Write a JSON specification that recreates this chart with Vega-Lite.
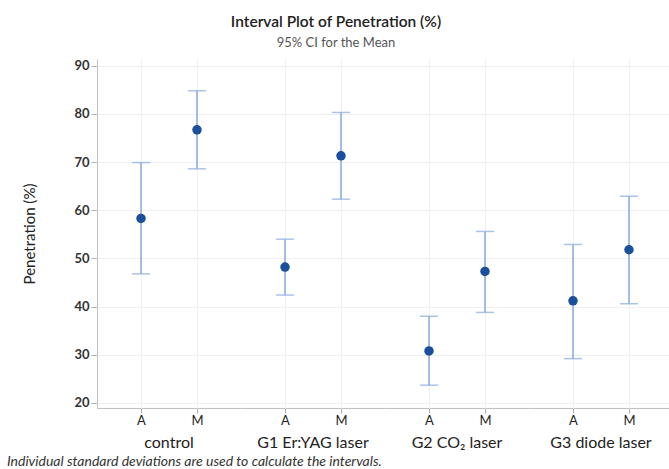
{
  "$schema": "https://vega.github.io/schema/vega-lite/v6.json",
  "padding": {"left": 6, "top": 14, "right": 0, "bottom": 0},
  "background": "white",
  "title": {
    "text": "Individual standard deviations are used to calculate the intervals.",
    "orient": "bottom",
    "anchor": "start",
    "dx": -16,
    "offset": 4,
    "font": "Lato",
    "fontSize": 14,
    "fontStyle": "italic",
    "fontWeight": "normal",
    "color": "#333333"
  },
  "vconcat": [
    {
      "data": {
        "values": [
          {"group": "control", "sub": "A", "mean": 58.3, "lo": 46.8, "hi": 69.9},
          {"group": "control", "sub": "M", "mean": 76.7, "lo": 68.6, "hi": 84.8},
          {"group": "G1 Er:YAG laser", "sub": "A", "mean": 48.2, "lo": 42.4, "hi": 54.0},
          {"group": "G1 Er:YAG laser", "sub": "M", "mean": 71.3, "lo": 62.3, "hi": 80.3},
          {"group": "G2 CO₂ laser", "sub": "A", "mean": 30.8, "lo": 23.7, "hi": 38.0},
          {"group": "G2 CO₂ laser", "sub": "M", "mean": 47.3, "lo": 38.8, "hi": 55.6},
          {"group": "G3 diode laser", "sub": "A", "mean": 41.2, "lo": 29.2, "hi": 52.9},
          {"group": "G3 diode laser", "sub": "M", "mean": 51.8, "lo": 40.6, "hi": 62.9}
        ]
      },
      "title": {
        "text": "Interval Plot of Penetration (%)",
        "subtitle": "95% CI for the Mean",
        "anchor": "middle",
        "dx": -12,
        "font": "Lato",
        "fontSize": 15.5,
        "fontWeight": 600,
        "color": "#222222",
        "subtitleFont": "Lato",
        "subtitleFontSize": 13,
        "subtitleColor": "#555555",
        "subtitlePadding": 7,
        "offset": 9
      },
      "spacing": 0,
      "facet": {
        "column": {
          "field": "group",
          "type": "nominal",
          "sort": ["control", "G1 Er:YAG laser", "G2 CO₂ laser", "G3 diode laser"],
          "header": {
            "title": null,
            "labelOrient": "bottom",
            "labelFont": "Lato",
            "labelFontSize": 16,
            "labelColor": "#222222",
            "labelPadding": 8
          }
        }
      },
      "spec": {
        "width": 144,
        "height": 349,
        "view": {"stroke": null},
        "layer": [
          {
            "mark": {"type": "rule", "color": "#86a9dc", "strokeWidth": 1.5},
            "encoding": {
              "x": {
                "field": "sub",
                "type": "nominal",
                "scale": {"type": "point", "padding": 0.786},
                "axis": {
                  "title": null,
                  "labelAngle": 0,
                  "labelFont": "Lato",
                  "labelFontSize": 13,
                  "labelColor": "#222222",
                  "labelPadding": 1,
                  "tickSize": 5,
                  "tickColor": "#b0b0b0",
                  "domainColor": "#c0c0c0",
                  "grid": true,
                  "gridColor": "#f0f0f0"
                }
              },
              "y": {
                "field": "lo",
                "type": "quantitative",
                "scale": {"domain": [18.96, 91.39], "nice": false, "zero": false},
                "axis": {
                  "title": "Penetration (%)",
                  "titleFont": "Lato",
                  "titleFontSize": 15,
                  "titleFontWeight": "normal",
                  "titleColor": "#222222",
                  "titlePadding": 36,
                  "values": [20, 30, 40, 50, 60, 70, 80, 90],
                  "labelFont": "Lato",
                  "labelFontSize": 13,
                  "labelFontWeight": "bold",
                  "labelColor": "#333333",
                  "labelPadding": 2,
                  "tickSize": 6,
                  "tickColor": "#b0b0b0",
                  "domainColor": "#c0c0c0",
                  "grid": true,
                  "gridColor": "#f0f0f0"
                }
              },
              "y2": {"field": "hi"}
            }
          },
          {
            "mark": {"type": "tick", "color": "#86a9dc", "size": 18, "thickness": 1.5},
            "encoding": {
              "x": {"field": "sub", "type": "nominal"},
              "y": {"field": "lo", "type": "quantitative"}
            }
          },
          {
            "mark": {"type": "tick", "color": "#86a9dc", "size": 18, "thickness": 1.5},
            "encoding": {
              "x": {"field": "sub", "type": "nominal"},
              "y": {"field": "hi", "type": "quantitative"}
            }
          },
          {
            "mark": {"type": "point", "filled": true, "opacity": 1, "size": 90, "color": "#1a4f9e"},
            "encoding": {
              "x": {"field": "sub", "type": "nominal"},
              "y": {"field": "mean", "type": "quantitative"}
            }
          }
        ]
      }
    }
  ]
}
